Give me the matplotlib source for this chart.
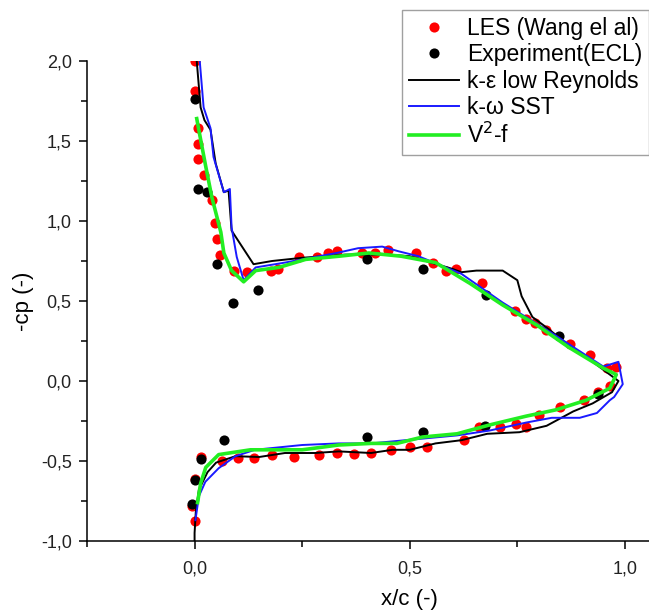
import matplotlib
matplotlib.use("Agg")
import matplotlib.pyplot as plt
from matplotlib.ticker import MultipleLocator, FuncFormatter

plt.rcParams['font.family'] = ['Liberation Sans', 'DejaVu Sans']

# LES (Wang et al) - red points
les_up_x = [0.002, 0.0, 0.007, 0.009, 0.007, 0.023, 0.040, 0.047, 0.051, 0.058, 0.091, 0.121,
            0.177, 0.195, 0.242, 0.284, 0.31, 0.33, 0.39, 0.42, 0.45, 0.515, 0.553, 0.585,
            0.608, 0.667, 0.744, 0.77, 0.79, 0.816, 0.872, 0.92, 0.958, 0.98]
les_up_y = [2.0, 1.81, 1.58, 1.48, 1.39, 1.29, 1.13, 0.99, 0.89, 0.79, 0.69, 0.68,
            0.69, 0.70, 0.775, 0.775, 0.80, 0.81, 0.80, 0.80, 0.82, 0.80, 0.74, 0.69,
            0.70, 0.61, 0.44, 0.39, 0.36, 0.32, 0.23, 0.16, 0.08, 0.09]
les_lo_x = [0.0, -0.005, 0.0, 0.016, 0.063, 0.10, 0.137, 0.18, 0.23, 0.29, 0.33, 0.37, 0.41,
            0.457, 0.50, 0.54, 0.627, 0.66, 0.71, 0.748, 0.77, 0.80, 0.85, 0.906, 0.937, 0.965]
les_lo_y = [-0.875, -0.78, -0.61, -0.475, -0.50, -0.48, -0.48, -0.46, -0.475, -0.46, -0.45,
            -0.455, -0.45, -0.43, -0.41, -0.41, -0.37, -0.29, -0.29, -0.27, -0.29, -0.21,
            -0.16, -0.12, -0.07, -0.03]

# Experiment (ECL) - black points
exp_x = [0.0, 0.009, 0.030, 0.051, 0.089, 0.147, 0.40, 0.53, 0.678, 0.846,
         0.0, -0.005, 0.016, 0.068, 0.40, 0.53, 0.676, 0.937]
exp_y = [1.76, 1.20, 1.18, 0.73, 0.49, 0.57, 0.76, 0.70, 0.54, 0.28,
         -0.62, -0.77, -0.49, -0.37, -0.35, -0.32, -0.28, -0.08]

# k-epsilon low Reynolds (black line), upper then lower surface
ke_x = [0.003, 0.005, 0.014, 0.023, 0.037, 0.049, 0.068, 0.079, 0.086, 0.137, 0.18, 0.25,
        0.30, 0.35, 0.40, 0.45, 0.50, 0.55, 0.60, 0.62, 0.655, 0.716, 0.75, 0.76, 0.785,
        0.825, 0.87, 0.92, 0.96, 0.985,
        0.97, 0.925, 0.88, 0.818, 0.755, 0.68, 0.62, 0.56, 0.50, 0.46, 0.41, 0.335, 0.28,
        0.21, 0.15, 0.095, 0.05, 0.03, 0.01, 0.003, 0.0, 0.0]
ke_y = [2.1, 2.0, 1.71, 1.63, 1.57, 1.36, 1.18, 1.19, 0.94, 0.73, 0.75, 0.77,
        0.78, 0.79, 0.79, 0.79, 0.78, 0.74, 0.70, 0.68, 0.69, 0.69, 0.63, 0.53, 0.40,
        0.32, 0.22, 0.13, 0.05, 0.0,
        -0.07, -0.14, -0.19, -0.28, -0.32, -0.33, -0.37, -0.39, -0.43, -0.43, -0.45, -0.44,
        -0.45, -0.45, -0.475, -0.47, -0.51, -0.57, -0.68, -0.81, -0.95, -1.05]

# k-omega SST (blue line)
kw_x = [0.010, 0.012, 0.021, 0.037, 0.044, 0.068, 0.082, 0.086, 0.098, 0.114, 0.142, 0.21,
        0.33, 0.38, 0.436, 0.475, 0.52, 0.62, 0.716, 0.83, 0.95, 0.985, 0.995,
        0.975, 0.965, 0.935, 0.895, 0.83, 0.77, 0.685, 0.61, 0.49, 0.41, 0.335, 0.25,
        0.14, 0.095, 0.056, 0.025, 0.01, 0.002]
kw_y = [2.1, 2.0, 1.71, 1.58, 1.40, 1.18, 1.20, 0.96, 0.775, 0.63, 0.71, 0.74,
        0.80, 0.83, 0.84, 0.81, 0.78, 0.67, 0.49, 0.30, 0.09, 0.12, -0.02,
        -0.10, -0.12, -0.20, -0.23, -0.23, -0.26, -0.31, -0.34, -0.37, -0.39, -0.39, -0.40,
        -0.43, -0.47, -0.545, -0.63, -0.72, -0.87]

# V2-f (green line)
v2f_x = [0.005, 0.014, 0.026, 0.040, 0.061, 0.068, 0.086, 0.114, 0.142, 0.196, 0.258, 0.336,
         0.405, 0.48, 0.56, 0.64, 0.716, 0.795, 0.87, 0.95, 0.98,
         0.965, 0.91, 0.84, 0.77, 0.685, 0.61, 0.53, 0.47, 0.41, 0.335, 0.25, 0.13, 0.056,
         0.026, 0.014, 0.007]
v2f_y = [1.64, 1.51, 1.34, 1.15, 0.93, 0.80, 0.69, 0.62, 0.69, 0.71, 0.76, 0.78,
         0.80, 0.78, 0.74, 0.61, 0.475, 0.35, 0.21, 0.08, 0.04,
         -0.045, -0.12, -0.18, -0.22, -0.275, -0.33, -0.35, -0.39, -0.39, -0.40, -0.43, -0.43,
         -0.46, -0.54, -0.64, -0.76]

fig = plt.figure(figsize=(6.49, 6.12), dpi=100)
ax = fig.add_axes([87/649, 1-541/612, 562/649, 480/612])

ax.plot(les_up_x + les_lo_x, les_up_y + les_lo_y, 'o', color='#ff0000', ms=7.3, mec='none',
        label='LES (Wang el al)', zorder=2)
ax.plot(exp_x, exp_y, 'o', color='black', ms=7.3, mec='none', label='Experiment(ECL)', zorder=2)
ax.plot(ke_x, ke_y, '-', color='black', lw=1.4, label='k-ε low Reynolds', zorder=3)
ax.plot(kw_x, kw_y, '-', color='#1a1aff', lw=1.4, label='k-ω SST', zorder=3)
ax.plot(v2f_x, v2f_y, '-', color='#22ee22', lw=2.6, label='V$^2$-f', zorder=4)

xmin, xmax = -0.25, 1.056
ax.set_xlim(xmin, xmax)
ax.set_ylim(-1.0, 2.0)
ax.spines['top'].set_visible(False)
ax.spines['right'].set_visible(False)
for s in ('left', 'bottom'):
    ax.spines[s].set_linewidth(1.1)
ax.xaxis.set_major_locator(MultipleLocator(0.5))
ax.xaxis.set_minor_locator(MultipleLocator(0.25))
ax.yaxis.set_major_locator(MultipleLocator(0.5))
ax.yaxis.set_minor_locator(MultipleLocator(0.25))
fmt = FuncFormatter(lambda v, p: ('%.1f' % v).replace('.', ','))
ax.xaxis.set_major_formatter(fmt)
ax.yaxis.set_major_formatter(fmt)
ax.tick_params(which='major', length=6, width=1.1, labelsize=13, colors='black', labelcolor='#222222')
ax.tick_params(which='minor', length=4, width=1.1)
ax.tick_params(axis='x', pad=8)
ax.tick_params(axis='y', pad=5)

ax.set_xlabel('x/c (-)', fontsize=16)
ax.set_ylabel('-cp (-)', fontsize=16)
ax.xaxis.set_label_coords((0.5 - xmin) / (xmax - xmin), -0.1)
ax.yaxis.set_label_coords(-0.095, 0.5)

leg = ax.legend(loc='upper left', bbox_to_anchor=(402/649, 1-10/612), bbox_transform=fig.transFigure,
                fontsize=16.5, frameon=True, fancybox=False, edgecolor='#888888',
                handlelength=2.2, handletextpad=0.35, labelspacing=0.15, borderpad=0.3,
                borderaxespad=0)
leg.get_frame().set_linewidth(1.0)

fig.savefig('out.png', dpi=100)
